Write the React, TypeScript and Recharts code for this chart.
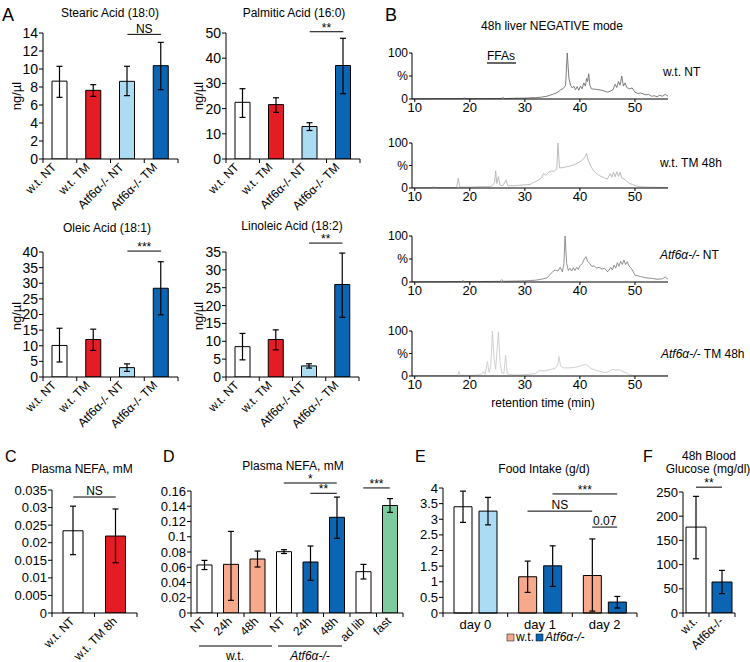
import React from 'react'
import { BarChart, Bar, XAxis, YAxis, ErrorBar, Cell, ReferenceLine, LineChart, Line } from 'recharts'

const FONT = '"Liberation Sans", Arial, Helvetica, sans-serif'
const WHITE = '#ffffff'
const RED = '#e31d23'
const LIGHT = '#abdcf4'
const BLUE = '#0c65b2'
const SALMON = '#f6a98b'
const GREEN = '#7dcb9e'
const AXIS = { stroke: '#000', strokeWidth: 1 }

// A: liver free fatty acids, ng/µl
const acidKeys = ['w.t. NT', 'w.t. TM', 'Atf6α-/- NT', 'Atf6α-/- TM']
const acidFills = [WHITE, RED, LIGHT, BLUE]
const stearicMean = [8.65, 7.63, 8.63, 10.37]
const stearicLow = [6.85, 6.96, 7.04, 7.7]
const stearicHigh = [10.3, 8.26, 10.3, 12.96]
const stearicTicks = [0, 2, 4, 6, 8, 10, 12, 14]
const palmiticMean = [22.5, 21.6, 12.9, 37.1]
const palmiticLow = [16.5, 18.5, 11.3, 25.9]
const palmiticHigh = [27.9, 24.3, 14.4, 47.9]
const palmiticTicks = [0, 10, 20, 30, 40, 50]
const oleicMean = [10.1, 12.0, 3.0, 28.4]
const oleicLow = [4.8, 8.5, 1.8, 19.9]
const oleicHigh = [15.6, 15.3, 4.2, 36.9]
const oleicTicks = [0, 5, 10, 15, 20, 25, 30, 35, 40]
const linoleicMean = [8.5, 10.5, 3.1, 25.9]
const linoleicLow = [4.8, 7.6, 2.5, 16.7]
const linoleicHigh = [12.2, 13.2, 3.7, 34.7]
const linoleicTicks = [0, 5, 10, 15, 20, 25, 30, 35]

// B: chromatograms, [retention time (min), %]
const wtNtTrace: [number, number][] = [
  [9.5, 0.5], [12, 0.5], [15, 0.8], [18.7, 0.8], [19, 2.5], [19.3, 0.8], [22, 0.8], [25.7, 1], [26, 3], [26.3, 1],
  [28, 1.5], [30, 2], [32, 3], [33, 4], [34, 6], [35, 10], [35.5, 12], [36, 15], [36.5, 20], [37, 23], [37.4, 30],
  [37.7, 100], [38, 45], [38.3, 30], [38.6, 24], [38.9, 28], [39.2, 20], [39.5, 27], [39.8, 19], [40.1, 28],
  [40.4, 22], [40.7, 35], [41, 28], [41.2, 45], [41.4, 38], [41.6, 55], [41.8, 30], [42.1, 22], [43, 21], [44, 19],
  [45, 15], [45.5, 17], [46, 20], [46.4, 32], [46.7, 25], [47, 38], [47.3, 30], [47.6, 50], [47.9, 28], [48.2, 35],
  [48.5, 25], [49, 22], [49.5, 24], [50, 15], [50.5, 12], [51, 13], [52, 9], [52.5, 10], [53, 6], [53.5, 7],
  [54, 5], [54.5, 8], [55, 6], [55.5, 10], [56, 6],
]
const wtTmTrace: [number, number][] = [
  [9.5, 0.5], [13, 1], [13.5, 2.5], [14, 1], [17.6, 1], [17.9, 22], [18.2, 2], [20, 2], [22, 3], [23, 3], [24, 4],
  [24.5, 12], [24.7, 38], [24.9, 10], [25.2, 25], [25.5, 6], [26, 5], [26.6, 18], [26.9, 5], [28, 5], [29, 6],
  [30, 7], [31, 8], [31.5, 12], [32, 14], [32.5, 18], [33, 22], [33.4, 32], [33.8, 28], [34.3, 35], [34.8, 38],
  [35.3, 37], [35.8, 42], [36, 100], [36.3, 45], [36.8, 45], [37.5, 47], [38, 48], [38.5, 50], [39, 52], [39.5, 55],
  [40, 58], [40.5, 63], [41, 70], [41.2, 77], [41.5, 62], [42, 48], [42.5, 38], [43, 32], [43.5, 28], [44, 25],
  [44.5, 22], [45, 20], [45.5, 32], [45.8, 24], [46.1, 35], [46.4, 25], [46.7, 36], [47, 26], [47.3, 35], [47.6, 22],
  [48, 20], [48.5, 15], [49, 10], [49.5, 8], [50, 5], [51, 3], [52, 2], [54, 1.5], [56, 1],
]
const koNtTrace: [number, number][] = [
  [9.5, 0.5], [15, 0.8], [18.5, 1], [18.8, 3], [19.1, 1], [22, 1], [25.5, 1.5], [25.8, 5], [26.1, 1.5], [28, 2],
  [30, 2.5], [32, 4], [33, 6], [34, 9], [34.5, 15], [35, 22], [35.5, 26], [36, 24], [36.4, 32], [36.8, 22],
  [37.1, 40], [37.3, 100], [37.6, 40], [37.9, 25], [38.2, 30], [38.5, 24], [38.8, 31], [39.1, 25], [39.4, 32],
  [39.7, 27], [40, 35], [40.4, 40], [40.8, 50], [41.1, 55], [41.4, 45], [41.8, 40], [42.2, 34], [42.6, 35], [43, 30],
  [43.5, 32], [44, 28], [44.5, 30], [45, 22], [45.3, 26], [45.6, 32], [45.9, 26], [46.2, 37], [46.5, 30], [46.8, 42],
  [47.1, 34], [47.4, 45], [47.7, 38], [48, 48], [48.3, 38], [48.6, 44], [48.9, 35], [49.3, 30], [49.7, 22], [50, 15],
  [51, 12], [52, 9], [53, 8], [54, 6], [55, 7], [55.5, 11], [56, 6],
]
const koTmTrace: [number, number][] = [
  [9.5, 0.5], [13, 1], [17, 1], [17.8, 1.5], [18, 10], [18.2, 1.5], [20, 1.5], [21, 2], [22, 3], [22.5, 10],
  [22.8, 4], [23.2, 32], [23.5, 8], [23.8, 20], [24.1, 100], [24.4, 40], [24.7, 15], [24.9, 50], [25.2, 98],
  [25.5, 30], [25.8, 8], [26.2, 6], [26.5, 46], [26.8, 5], [27.5, 3], [28.5, 2], [30, 3], [31, 4], [32, 6],
  [32.7, 12], [33.5, 11], [34.5, 14], [35.5, 17], [36, 25], [36.2, 43], [36.5, 22], [37, 18], [38, 18], [39, 19],
  [40, 22], [40.5, 24], [41, 26], [41.5, 22], [42, 17], [43, 12], [44, 9], [44.8, 7], [45.5, 12], [46, 15],
  [46.5, 13], [47, 14], [47.3, 13], [48, 9], [48.5, 6], [49, 3], [49.7, 1], [50.5, 0.5], [56, 0.5],
]
const rtTicks = [10, 20, 30, 40, 50]

// C: plasma NEFA, mM (8h)
const nefaKeys = ['w.t. NT', 'w.t. TM 8h']
const nefaMean = [0.0234, 0.0219]
const nefaLow = [0.0166, 0.0143]
const nefaHigh = [0.0304, 0.0296]
const nefaTicks = [0, 0.005, 0.01, 0.015, 0.02, 0.025, 0.03, 0.035]

// D: plasma NEFA, mM (time course + fasting)
const timeKeys = ['wt-NT', 'wt-24h', 'wt-48h', 'ko-NT', 'ko-24h', 'ko-48h', 'adlib', 'fast']
const timeLabels = ['NT', '24h', '48h', 'NT', '24h', '48h', 'ad lib', 'fast']
const timeFills = [WHITE, SALMON, SALMON, WHITE, BLUE, BLUE, WHITE, GREEN]
const timeMean = [0.063, 0.0638, 0.0708, 0.0804, 0.0669, 0.1255, 0.0542, 0.141]
const timeLow = [0.057, 0.0166, 0.0603, 0.078, 0.0428, 0.098, 0.0446, 0.132]
const timeHigh = [0.069, 0.107, 0.0813, 0.083, 0.0879, 0.152, 0.0638, 0.15]
const timeTicks = [0, 0.02, 0.04, 0.06, 0.08, 0.1, 0.12, 0.14, 0.16]

// E: food intake, g/d
const days = ['day 0', 'day 1', 'day 2']
const intakeWt = [3.4, 1.16, 1.2]
const intakeWtLow = [2.9, 0.66, 0.06]
const intakeWtHigh = [3.9, 1.66, 2.37]
const intakeKo = [3.26, 1.51, 0.35]
const intakeKoLow = [2.82, 0.85, 0.16]
const intakeKoHigh = [3.7, 2.15, 0.53]
const intakeWtFills = [WHITE, SALMON, SALMON]
const intakeKoFills = [LIGHT, BLUE, BLUE]
const intakeTicks = [0, 0.5, 1, 1.5, 2, 2.5, 3, 3.5, 4]

// F: 48h blood glucose, mg/dl
const glucoseKeys = ['w.t.', 'Atf6α-/-']
const glucoseMean = [177.5, 64]
const glucoseLow = [112, 40]
const glucoseHigh = [241, 88]
const glucoseTicks = [0, 50, 100, 150, 200, 250]

type Box = { x0: number; x1: number; y0: number; y1: number }
type Row = { key: string; mean: number; err: [number, number]; fill: string }
type Bracket = { from: string; to: string; y: number; text: string; lift: number }

function makeRows(keys: string[], mean: number[], low: number[], high: number[], fills: string[]): Row[] {
  return keys.map((key, i) => ({ key, mean: mean[i], err: [mean[i] - low[i], high[i] - mean[i]], fill: fills[i] }))
}

const YW = 50
const MT = 34
const MR = 10
const XH = 70

function SlantTick(props: any) {
  const { x, y, index, band, count, labels, dx, dy, fontSize } = props
  const ax = x + dx
  const ay = y + dy
  return (
    <g>
      <line x1={x - band / 2} x2={x - band / 2} y1={y} y2={y + 4} stroke="#000" />
      {index === count - 1 && <line x1={x + band / 2} x2={x + band / 2} y1={y} y2={y + 4} stroke="#000" />}
      <text x={ax} y={ay} transform={`rotate(-45 ${ax} ${ay})`} textAnchor="end" fontSize={fontSize} fill="#000">
        {labels[index]}
      </text>
    </g>
  )
}

function FlatTick(props: any) {
  const { x, y, index, band, count, payload } = props
  return (
    <g>
      <line x1={x - band / 2} x2={x - band / 2} y1={y} y2={y + 4} stroke="#000" />
      {index === count - 1 && <line x1={x + band / 2} x2={x + band / 2} y1={y} y2={y + 4} stroke="#000" />}
      <text x={x} y={y + 16} textAnchor="middle" fontSize={13} fill="#000">
        {payload.value}
      </text>
    </g>
  )
}

function bracketLine(b: Bracket, xAxisId?: string | number, fx?: number, tx?: number) {
  return (
    <ReferenceLine
      key={b.text + b.from + b.to}
      xAxisId={xAxisId ?? 0}
      segment={[{ x: fx ?? b.from, y: b.y }, { x: tx ?? b.to, y: b.y }]}
      stroke="#000"
      strokeWidth={1}
      ifOverflow="visible"
      label={{ value: b.text, position: 'top', offset: b.lift, fontSize: 12, fill: '#000' }}
    />
  )
}

interface BarPanelProps {
  box: Box
  rows: Row[]
  labels: string[]
  yMax: number
  yTicks: number[]
  brackets: Bracket[]
  barSize: number
  fontSize: number
  dx: number
}

function BarPanel({ box, rows, labels, yMax, yTicks, brackets, barSize, fontSize, dx }: BarPanelProps) {
  const plotW = box.x1 - box.x0
  const band = plotW / rows.length
  return (
    <div style={{ position: 'absolute', left: box.x0 - YW, top: box.y0 - MT }}>
      <BarChart
        width={plotW + YW + MR}
        height={box.y1 - box.y0 + MT + XH}
        data={rows}
        margin={{ top: MT, right: MR, bottom: 0, left: 0 }}
      >
        <XAxis
          dataKey="key"
          interval={0}
          height={XH}
          tickLine={false}
          tickSize={0}
          tickMargin={0}
          axisLine={AXIS}
          tick={<SlantTick band={band} count={rows.length} labels={labels} dx={dx} dy={9} fontSize={12} />}
        />
        <YAxis
          width={YW}
          domain={[0, yMax]}
          ticks={yTicks}
          interval={0}
          allowDataOverflow
          tickSize={4}
          tickMargin={1}
          axisLine={AXIS}
          tickLine={AXIS}
          tick={{ fontSize, fill: '#000' }}
        />
        <Bar dataKey="mean" barSize={barSize} stroke="#000" strokeWidth={1} isAnimationActive={false}>
          {rows.map((r) => (
            <Cell key={r.key} fill={r.fill} />
          ))}
          <ErrorBar dataKey="err" width={3} stroke="#000" strokeWidth={1.2} />
        </Bar>
        {brackets.map((b) => bracketLine(b))}
      </BarChart>
    </div>
  )
}

function Trace({ y0, y1, points, color }: { y0: number; y1: number; points: [number, number][]; color: string }) {
  const x0 = 412
  const x1 = 668
  const top = 8
  const yw = 40
  const data = points.map(([t, v]) => ({ t, v }))
  return (
    <div style={{ position: 'absolute', left: x0 - yw, top: y0 - top }}>
      <LineChart width={x1 - x0 + yw + 4} height={y1 - y0 + top + 24} data={data} margin={{ top, right: 4, bottom: 0, left: 0 }}>
        <XAxis
          type="number"
          dataKey="t"
          domain={[9.5, 56]}
          ticks={rtTicks}
          allowDataOverflow
          height={24}
          tickSize={3}
          tickMargin={1}
          axisLine={AXIS}
          tickLine={AXIS}
          tick={{ fontSize: 13, fill: '#000' }}
        />
        <YAxis
          width={yw}
          domain={[0, 100]}
          ticks={[0, 50, 100]}
          interval={0}
          tickSize={3}
          tickMargin={1}
          axisLine={AXIS}
          tickLine={AXIS}
          tick={{ fontSize: 12, fill: '#000' }}
          tickFormatter={(v: number) => (v === 50 ? '%' : String(v))}
        />
        <Line dataKey="v" type="linear" dot={false} stroke={color} strokeWidth={0.9} isAnimationActive={false} />
      </LineChart>
    </div>
  )
}

function IntakePanel() {
  const box: Box = { x0: 443, x1: 637, y0: 488, y1: 613 }
  const plotW = box.x1 - box.x0
  const band = plotW / days.length
  const barSize = 18
  const barGap = 7
  const shift = (barSize + barGap) / 2 / band
  const wtRows = makeRows(days, intakeWt, intakeWtLow, intakeWtHigh, intakeWtFills)
  const koRows = makeRows(days, intakeKo, intakeKoLow, intakeKoHigh, intakeKoFills)
  const rows = days.map((d, i) => ({
    key: d,
    pos: i + 0.5,
    wt: wtRows[i].mean,
    wtErr: wtRows[i].err,
    ko: koRows[i].mean,
    koErr: koRows[i].err,
  }))
  // bracket ends sit on bar centres: category centre +/- half the paired-bar spacing
  const at = (day: number, series: 'wt' | 'ko') => day + 0.5 + (series === 'wt' ? -shift : shift)
  const brackets: { b: Bracket; from: number; to: number }[] = [
    { b: { from: 'ko1', to: 'ko2', y: 3.81, text: '***', lift: 0 }, from: at(1, 'ko'), to: at(2, 'ko') },
    { b: { from: 'wt1', to: 'wt2', y: 3.26, text: 'NS', lift: 2 }, from: at(1, 'wt'), to: at(2, 'wt') },
    { b: { from: 'wt2', to: 'ko2', y: 2.75, text: '0.07', lift: 2 }, from: at(2, 'wt'), to: at(2, 'ko') },
  ]
  return (
    <div style={{ position: 'absolute', left: box.x0 - YW, top: box.y0 - MT }}>
      <BarChart
        width={plotW + YW + MR}
        height={box.y1 - box.y0 + MT + XH}
        data={rows}
        barGap={barGap}
        margin={{ top: MT, right: MR, bottom: 0, left: 0 }}
      >
        <XAxis
          dataKey="key"
          interval={0}
          height={XH}
          tickLine={false}
          tickSize={0}
          tickMargin={0}
          axisLine={AXIS}
          tick={<FlatTick band={band} count={days.length} />}
        />
        <XAxis xAxisId="pos" dataKey="pos" type="number" domain={[0, days.length]} hide allowDataOverflow />
        <YAxis
          width={YW}
          domain={[0, 4]}
          ticks={intakeTicks}
          interval={0}
          tickSize={4}
          tickMargin={1}
          axisLine={AXIS}
          tickLine={AXIS}
          tick={{ fontSize: 13, fill: '#000' }}
        />
        <Bar dataKey="wt" barSize={barSize} stroke="#000" strokeWidth={1} isAnimationActive={false}>
          {wtRows.map((r) => (
            <Cell key={r.key} fill={r.fill} />
          ))}
          <ErrorBar dataKey="wtErr" width={3} stroke="#000" strokeWidth={1.2} />
        </Bar>
        <Bar dataKey="ko" barSize={barSize} stroke="#000" strokeWidth={1} isAnimationActive={false}>
          {koRows.map((r) => (
            <Cell key={r.key} fill={r.fill} />
          ))}
          <ErrorBar dataKey="koErr" width={3} stroke="#000" strokeWidth={1.2} />
        </Bar>
        {brackets.map(({ b, from, to }) => bracketLine(b, 'pos', from, to))}
      </BarChart>
    </div>
  )
}

const T = { fontSize: 12, fill: '#000' }

function Overlay() {
  return (
    <svg width={750} height={662} style={{ position: 'absolute', left: 0, top: 0, pointerEvents: 'none' }}>
      <g fontSize={18} fill="#000">
        <text x={2} y={21}>A</text>
        <text x={385} y={21}>B</text>
      </g>
      <g fontSize={16} fill="#000">
        <text x={5} y={462}>C</text>
        <text x={163} y={462}>D</text>
        <text x={415} y={462}>E</text>
        <text x={643} y={462}>F</text>
      </g>
      <g {...T} textAnchor="middle">
        <text x={110} y={17}>Stearic Acid (18:0)</text>
        <text x={294} y={17}>Palmitic Acid (16:0)</text>
        <text x={107} y={232}>Oleic Acid (18:1)</text>
        <text x={292} y={230}>Linoleic Acid (18:2)</text>
        <text x={552} y={30}>48h liver NEGATIVE mode</text>
        <text x={543} y={407}>retention time (min)</text>
        <text x={82} y={473}>Plasma NEFA, mM</text>
        <text x={293} y={470}>Plasma NEFA, mM</text>
        <text x={544} y={473}>Food Intake (g/d)</text>
        <text x={709} y={460}>48h Blood</text>
        <text x={708} y={473}>Glucose (mg/dl)</text>
        <text x={235} y={660}>w.t.</text>
        <text x={310} y={660} fontStyle="italic">Atf6α-/-</text>
      </g>
      <g fontSize={13} fill="#000" textAnchor="middle">
        <text transform="translate(21 96) rotate(-90)">ng/µl</text>
        <text transform="translate(203 96) rotate(-90)">ng/µl</text>
        <text transform="translate(21 316) rotate(-90)">ng/µl</text>
        <text transform="translate(203 316) rotate(-90)">ng/µl</text>
      </g>
      <g {...T}>
        <text x={487} y={60}>FFAs</text>
        <line x1={487} x2={516} y1={63} y2={63} stroke="#000" strokeWidth={1.2} />
        <text x={663} y={76}>w.t. NT</text>
        <text x={660} y={167}>w.t. TM 48h</text>
        <text x={660} y={259}>
          <tspan fontStyle="italic">Atf6α-/-</tspan> NT
        </text>
        <text x={661} y={358}>
          <tspan fontStyle="italic">Atf6α-/-</tspan> TM 48h
        </text>
      </g>
      <g stroke="#000" strokeWidth={1}>
        <line x1={199} x2={272} y1={646} y2={646} />
        <line x1={278} x2={342} y1={646} y2={646} />
      </g>
      <g {...T}>
        <rect x={507} y={634} width={7} height={7} fill={SALMON} stroke="#000" strokeWidth={0.5} />
        <text x={516} y={641}>w.t.</text>
        <rect x={536} y={634} width={7} height={7} fill={BLUE} stroke="#000" strokeWidth={0.5} />
        <text x={545} y={641} fontStyle="italic">Atf6α-/-</text>
      </g>
    </svg>
  )
}

export default function App() {
  const aTop = { y0: 33, y1: 159 }
  const aBot = { y0: 252, y1: 377 }
  return (
    <div
      style={{
        position: 'absolute',
        left: 0,
        top: 0,
        width: 750,
        height: 662,
        overflow: 'hidden',
        background: '#fff',
        fontFamily: FONT,
      }}
    >
      <Overlay />
      <BarPanel
        box={{ x0: 43, x1: 178, ...aTop }}
        rows={makeRows(acidKeys, stearicMean, stearicLow, stearicHigh, acidFills)}
        labels={acidKeys}
        yMax={14}
        yTicks={stearicTicks}
        brackets={[{ from: acidKeys[2], to: acidKeys[3], y: 13.85, text: 'NS', lift: 1 }]}
        barSize={15}
        fontSize={14}
        dx={-3}
      />
      <BarPanel
        box={{ x0: 226, x1: 360, ...aTop }}
        rows={makeRows(acidKeys, palmiticMean, palmiticLow, palmiticHigh, acidFills)}
        labels={acidKeys}
        yMax={50}
        yTicks={palmiticTicks}
        brackets={[{ from: acidKeys[2], to: acidKeys[3], y: 50.5, text: '**', lift: 0 }]}
        barSize={15}
        fontSize={14}
        dx={-3}
      />
      <BarPanel
        box={{ x0: 43, x1: 178, ...aBot }}
        rows={makeRows(acidKeys, oleicMean, oleicLow, oleicHigh, acidFills)}
        labels={acidKeys}
        yMax={40}
        yTicks={oleicTicks}
        brackets={[{ from: acidKeys[2], to: acidKeys[3], y: 40.3, text: '***', lift: 0 }]}
        barSize={15}
        fontSize={14}
        dx={-3}
      />
      <BarPanel
        box={{ x0: 226, x1: 359, ...aBot }}
        rows={makeRows(acidKeys, linoleicMean, linoleicLow, linoleicHigh, acidFills)}
        labels={acidKeys}
        yMax={35}
        yTicks={linoleicTicks}
        brackets={[{ from: acidKeys[2], to: acidKeys[3], y: 37.5, text: '**', lift: 0 }]}
        barSize={15}
        fontSize={14}
        dx={-3}
      />
      <Trace y0={53} y1={99} points={wtNtTrace} color="#6e6e6e" />
      <Trace y0={143} y1={188} points={wtTmTrace} color="#b4b4b4" />
      <Trace y0={236} y1={282} points={koNtTrace} color="#858585" />
      <Trace y0={331} y1={376} points={koTmTrace} color="#cbcbcb" />
      <BarPanel
        box={{ x0: 52, x1: 137, y0: 490, y1: 613 }}
        rows={makeRows(nefaKeys, nefaMean, nefaLow, nefaHigh, [WHITE, RED])}
        labels={nefaKeys}
        yMax={0.035}
        yTicks={nefaTicks}
        brackets={[{ from: nefaKeys[0], to: nefaKeys[1], y: 0.033, text: 'NS', lift: 2 }]}
        barSize={20}
        fontSize={13}
        dx={2}
      />
      <BarPanel
        box={{ x0: 191, x1: 403, y0: 491, y1: 613 }}
        rows={makeRows(timeKeys, timeMean, timeLow, timeHigh, timeFills)}
        labels={timeLabels}
        yMax={0.16}
        yTicks={timeTicks}
        brackets={[
          { from: 'ko-NT', to: 'ko-48h', y: 0.1705, text: '*', lift: 0 },
          { from: 'ko-24h', to: 'ko-48h', y: 0.157, text: '**', lift: 0 },
          { from: 'adlib', to: 'fast', y: 0.164, text: '***', lift: 0 },
        ]}
        barSize={15}
        fontSize={13}
        dx={2}
      />
      <IntakePanel />
      <BarPanel
        box={{ x0: 683, x1: 735, y0: 492, y1: 613 }}
        rows={makeRows(glucoseKeys, glucoseMean, glucoseLow, glucoseHigh, [WHITE, BLUE])}
        labels={glucoseKeys}
        yMax={250}
        yTicks={glucoseTicks}
        brackets={[{ from: glucoseKeys[0], to: glucoseKeys[1], y: 260, text: '**', lift: 0 }]}
        barSize={20}
        fontSize={13}
        dx={2}
      />
    </div>
  )
}
